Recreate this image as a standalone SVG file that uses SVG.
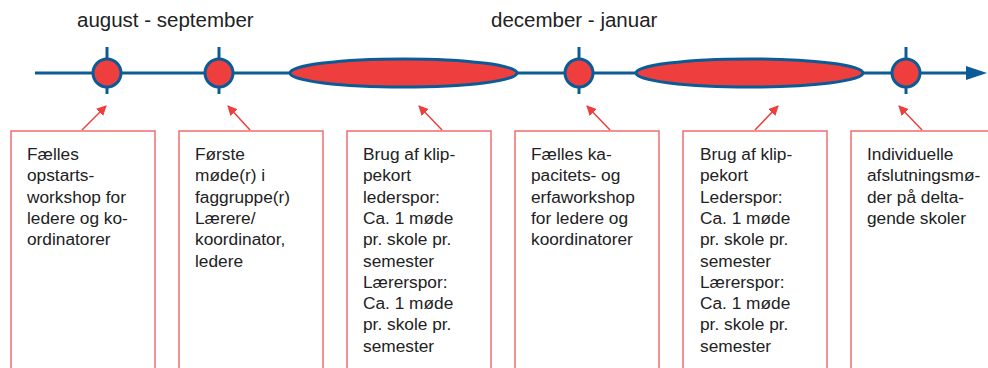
<svg xmlns="http://www.w3.org/2000/svg" width="988" height="368" viewBox="0 0 988 368">
<defs>
<style>
.axis{stroke:#0b5c96;stroke-width:3;fill:none}
.ms{fill:#ef3e3e;stroke:#0b5c96;stroke-width:3}
.box{fill:#fff;stroke:#f26c6c;stroke-width:1.5}
.lnk{stroke:#ef3e3e;stroke-width:1.5;fill:none;marker-end:url(#ah)}
.t{font-family:"Liberation Sans",Arial,sans-serif;font-size:17.3px;fill:#222}
.h{font-family:"Liberation Sans",Arial,sans-serif;font-size:20.5px;fill:#222}
</style>
<marker id="ah" markerWidth="10" markerHeight="10" refX="9" refY="5" orient="auto" markerUnits="userSpaceOnUse" viewBox="0 0 10 10">
<path d="M0,0 L10,5 L0,10 z" fill="#ef3e3e"/>
</marker>
</defs>
<rect width="988" height="368" fill="#fff"/>
<text class="h" x="77" y="27">august - september</text>
<text class="h" x="491" y="27">december - januar</text>
<g id="timeline">
<line class="axis" x1="35" y1="73" x2="970" y2="73"/>
<path d="M966,66 L987,73 L966,80 z" fill="#0b5c96"/>
</g>
<g id="m1"><line class="axis" x1="107" y1="47" x2="107" y2="94"/><circle class="ms" cx="107" cy="73" r="14"/></g>
<g id="m2"><line class="axis" x1="219" y1="47" x2="219" y2="94"/><circle class="ms" cx="219" cy="73" r="14"/></g>
<g id="e1"><ellipse class="ms" cx="403.5" cy="73" rx="113.5" ry="14"/></g>
<g id="m3"><line class="axis" x1="579" y1="47" x2="579" y2="94"/><circle class="ms" cx="579" cy="73" r="14"/></g>
<g id="e2"><ellipse class="ms" cx="749.5" cy="73" rx="113.5" ry="14"/></g>
<g id="m4"><line class="axis" x1="906" y1="47" x2="906" y2="94"/><circle class="ms" cx="906" cy="73" r="14"/></g>
<g id="connectors">
<line class="lnk" x1="82" y1="130" x2="106" y2="106"/>
<line class="lnk" x1="250" y1="130" x2="228" y2="106"/>
<line class="lnk" x1="442" y1="130" x2="419" y2="106"/>
<line class="lnk" x1="610" y1="130" x2="587" y2="106"/>
<line class="lnk" x1="755" y1="130" x2="778" y2="106"/>
<line class="lnk" x1="922" y1="130" x2="899" y2="106"/>
</g>
<g id="b1"><rect class="box" x="11" y="131" width="144" height="250"/>
<text class="t" x="27" y="160"><tspan x="27">Fælles</tspan><tspan x="27" dy="21.3">opstarts-</tspan><tspan x="27" dy="21.3">workshop for</tspan><tspan x="27" dy="21.3">ledere og ko-</tspan><tspan x="27" dy="21.3">ordinatorer</tspan></text></g>
<g id="b2"><rect class="box" x="179" y="131" width="144" height="250"/>
<text class="t" x="195" y="160"><tspan x="195">Første</tspan><tspan x="195" dy="21.3">møde(r) i</tspan><tspan x="195" dy="21.3">faggruppe(r)</tspan><tspan x="195" dy="21.3">Lærere/</tspan><tspan x="195" dy="21.3">koordinator,</tspan><tspan x="195" dy="21.3">ledere</tspan></text></g>
<g id="b3"><rect class="box" x="347" y="131" width="144" height="250"/>
<text class="t" x="363" y="160"><tspan x="363">Brug af klip-</tspan><tspan x="363" dy="21.3">pekort</tspan><tspan x="363" dy="21.3">lederspor:</tspan><tspan x="363" dy="21.3">Ca. 1 møde</tspan><tspan x="363" dy="21.3">pr. skole pr.</tspan><tspan x="363" dy="21.3">semester</tspan><tspan x="363" dy="21.3">Lærerspor:</tspan><tspan x="363" dy="21.3">Ca. 1 møde</tspan><tspan x="363" dy="21.3">pr. skole pr.</tspan><tspan x="363" dy="21.3">semester</tspan></text></g>
<g id="b4"><rect class="box" x="515" y="131" width="144" height="250"/>
<text class="t" x="531" y="160"><tspan x="531">Fælles ka-</tspan><tspan x="531" dy="21.3">pacitets- og</tspan><tspan x="531" dy="21.3">erfaworkshop</tspan><tspan x="531" dy="21.3">for ledere og</tspan><tspan x="531" dy="21.3">koordinatorer</tspan></text></g>
<g id="b5"><rect class="box" x="683" y="131" width="144" height="250"/>
<text class="t" x="700" y="160"><tspan x="700">Brug af klip-</tspan><tspan x="700" dy="21.3">pekort</tspan><tspan x="700" dy="21.3">Lederspor:</tspan><tspan x="700" dy="21.3">Ca. 1 møde</tspan><tspan x="700" dy="21.3">pr. skole pr.</tspan><tspan x="700" dy="21.3">semester</tspan><tspan x="700" dy="21.3">Lærerspor:</tspan><tspan x="700" dy="21.3">Ca. 1 møde</tspan><tspan x="700" dy="21.3">pr. skole pr.</tspan><tspan x="700" dy="21.3">semester</tspan></text></g>
<g id="b6"><rect class="box" x="851" y="131" width="144" height="250"/>
<text class="t" x="867" y="160"><tspan x="867">Individuelle</tspan><tspan x="867" dy="21.3">afslutningsmø-</tspan><tspan x="867" dy="21.3">der på delta-</tspan><tspan x="867" dy="21.3">gende skoler</tspan></text></g>
</svg>
